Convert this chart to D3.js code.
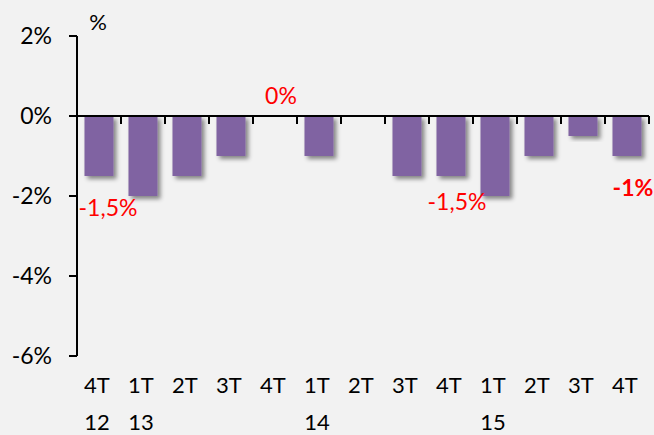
<!DOCTYPE html>
<html>
<head>
<meta charset="utf-8">
<script src="https://cdn.jsdelivr.net/npm/d3@7.9.0/dist/d3.min.js"></script>
<style>
  html, body { margin: 0; padding: 0; background: #f2f2f2; }
  svg { display: block; font-family: Lato, "Open Sans", sans-serif; }
</style>
</head>
<body>
<svg id="chart" width="654" height="435"></svg>
<script>
/* --- Data --- */
const quarters = ['4T', '1T', '2T', '3T', '4T', '1T', '2T', '3T', '4T', '1T', '2T', '3T', '4T'];
const years    = ['12', '13', '', '', '', '14', '', '', '', '15', '', '', ''];
const values   = [-1.5, -2, -1.5, -1, 0, -1, 0, -1.5, -1.5, -2, -1, -0.5, -1];
const yTicks   = [2, 0, -2, -4, -6];

// red annotations: category index, text, value where the label sits, bold
const noteIdx   = [0, 4, 8, 12];
const noteText  = ['-1,5%', '0%', '-1,5%', '-1%'];
const noteY     = [-2.3, 0.5, -2.15, -1.8];
const noteBold  = [false, false, false, true];

/* --- Layout --- */
const svg = d3.select('#chart');
const plotLeft = 77, plotRight = 649, plotTop = 36, plotBottom = 356;

const y = d3.scaleLinear().domain([-6, 2]).range([plotBottom, plotTop]);
const x = d3.scaleBand().domain(d3.range(values.length)).range([plotLeft, plotRight]).paddingInner(0.34).paddingOuter(0.17);
const xEdge = d3.scaleLinear().domain([0, values.length]).range([plotLeft, plotRight]);

/* --- Shadow filter --- */
const defs = svg.append('defs');
const f = defs.append('filter').attr('id', 'shadow').attr('x', '-20%').attr('y', '-20%').attr('width', '150%').attr('height', '150%');
f.append('feDropShadow').attr('dx', 3).attr('dy', 3).attr('stdDeviation', 2)
  .attr('flood-color', '#000').attr('flood-opacity', 0.45);

/* --- Bars --- */
svg.append('g').selectAll('rect')
  .data(values)
  .join('rect')
  .attr('x', (_, i) => x(i))
  .attr('width', x.bandwidth())
  .attr('y', d => y(Math.max(0, d)))
  .attr('height', d => Math.abs(y(d) - y(0)))
  .attr('fill', '#8064a2')
  .attr('filter', 'url(#shadow)');

/* --- Y axis --- */
const yAxis = svg.append('g');
yAxis.append('line')
  .attr('x1', plotLeft).attr('x2', plotLeft)
  .attr('y1', y(2)).attr('y2', y(-6))
  .attr('stroke', '#000').attr('stroke-width', 2);
yAxis.selectAll('line.tick')
  .data(yTicks)
  .join('line')
  .attr('class', 'tick')
  .attr('x1', plotLeft - 8).attr('x2', plotLeft)
  .attr('y1', d => y(d)).attr('y2', d => y(d))
  .attr('stroke', '#000').attr('stroke-width', 2);
yAxis.selectAll('text')
  .data(yTicks)
  .join('text')
  .attr('x', plotLeft - 25)
  .attr('y', d => y(d))
  .attr('dy', '0.35em')
  .attr('text-anchor', 'end')
  .attr('font-size', 23)
  .attr('fill', '#000')
  .text(d => d + '%');

svg.append('text')
  .attr('x', 98).attr('y', 22)
  .attr('dy', '0.35em')
  .attr('text-anchor', 'middle')
  .attr('font-size', 22)
  .text('%');

/* --- X axis (at zero) --- */
const xAxis = svg.append('g');
xAxis.append('line')
  .attr('x1', plotLeft - 8).attr('x2', plotRight)
  .attr('y1', y(0)).attr('y2', y(0))
  .attr('stroke', '#000').attr('stroke-width', 2);
xAxis.selectAll('line.tick')
  .data(d3.range(1, values.length + 1))
  .join('line')
  .attr('class', 'tick')
  .attr('x1', d => xEdge(d)).attr('x2', d => xEdge(d))
  .attr('y1', y(0)).attr('y2', y(0) + 8)
  .attr('stroke', '#000').attr('stroke-width', 2);

/* --- Category labels --- */
const labels = svg.append('g').attr('font-size', 22);
labels.selectAll('text.q')
  .data(quarters)
  .join('text')
  .attr('class', 'q')
  .attr('x', (_, i) => x(i) + x.bandwidth() / 2 - 2)
  .attr('y', 385)
  .attr('dy', '0.35em')
  .attr('text-anchor', 'middle')
  .text(d => d);
labels.selectAll('text.yr')
  .data(years)
  .join('text')
  .attr('class', 'yr')
  .attr('x', (_, i) => x(i) + x.bandwidth() / 2 - 2)
  .attr('y', 422)
  .attr('dy', '0.35em')
  .attr('text-anchor', 'middle')
  .text(d => d);

/* --- Red annotations --- */
svg.append('g').selectAll('text')
  .data(noteIdx)
  .join('text')
  .attr('x', (d, k) => x(d) + x.bandwidth() / 2 + (k === 0 ? 9 : 6))
  .attr('y', (_, k) => y(noteY[k]))
  .attr('dy', '0.35em')
  .attr('text-anchor', 'middle')
  .attr('font-size', 23)
  .attr('font-weight', (_, k) => noteBold[k] ? 'bold' : 'normal')
  .attr('fill', '#ff0000')
  .text((_, k) => noteText[k]);
</script>
</body>
</html>
